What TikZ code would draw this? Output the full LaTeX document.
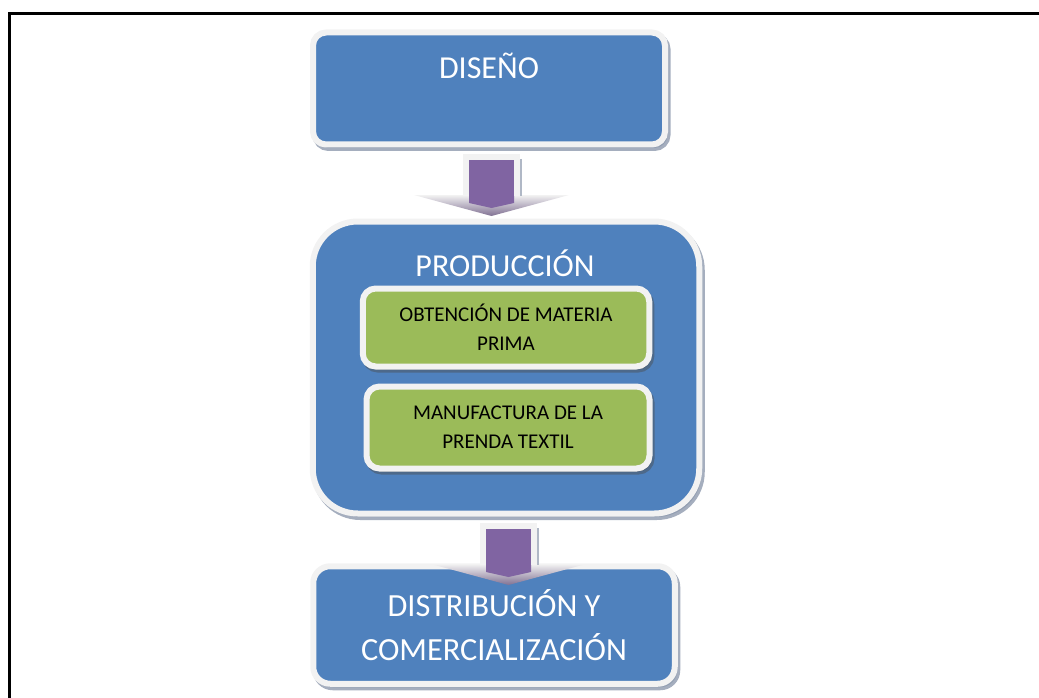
\documentclass[tikz,border=0pt]{standalone}
\usepackage{fontspec}
\setmainfont{Carlito}
\usetikzlibrary{shadows,calc}
\definecolor{boxblue}{HTML}{4F81BD}
\definecolor{boxgreen}{HTML}{9BBB59}
\definecolor{arrowpurple}{HTML}{8064A2}
\definecolor{ringwhite}{HTML}{F2F2F2}
\definecolor{shadowgray}{HTML}{8E9AAE}
\newcommand\flowarrow[1]{%
  \begin{scope}[shift={(#1)}]
    \shade[top color=ringwhite, bottom color=arrowpurple!55!gray]
      (-77.5,41) -- (77.5,41) -- (0,62) -- cycle;
    \fill[arrowpurple] (-22.5,6) -- (22.5,6) -- (22.5,49) -- (0,54) -- (-22.5,49) -- cycle;
    \draw[shadowgray!70, line width=2pt] (29,5) -- (29,42);
    \draw[ringwhite, line width=6pt] (-25.5,42) -- (-25.5,3) -- (25.5,3) -- (25.5,42);
  \end{scope}}
\begin{document}
\begin{tikzpicture}[x=1pt,y=-1pt,
  bluebox/.style={draw=ringwhite, line width=6pt, fill=boxblue, text=white,
    font=\fontsize{32.3}{44}\selectfont, align=center, inner sep=0pt,
    drop shadow={shadow xshift=2.5pt, shadow yshift=-3.5pt, fill=shadowgray,
      draw=shadowgray, line width=6pt, opacity=0.8}},
  greenbox/.style={draw=ringwhite, line width=6pt, fill=boxgreen, text=black,
    font=\fontsize{21}{29}\selectfont, align=center, inner sep=0pt,
    drop shadow={shadow xshift=2pt, shadow yshift=-3pt, fill=black!70,
      draw=black!70, line width=6pt, opacity=0.45}},
  titletext/.style={text=white, font=\fontsize{32}{44}\selectfont, anchor=base, inner sep=0pt}]
\useasboundingbox (0,0) rectangle (1039,698);
\draw[line width=2.8pt] (9.5,700) -- (9.5,13.2) -- (1040,13.2);
% boxes
\node[bluebox, rounded corners=13pt, minimum width=352pt, minimum height=112pt] (dis) at (489,88.5) {};
\node[titletext] (distxt) at (489,79) {DISEÑO};
\node[bluebox, rounded corners=45pt, minimum width=386.5pt, minimum height=292pt] (prod) at (506,367.5) {};
\node[titletext] (prodtxt) at (505,276) {PRODUCCIÓN};
\node[greenbox, rounded corners=13pt, minimum width=286.5pt, minimum height=78pt] (obt) at (506,327.5) {OBTENCIÓN DE MATERIA\\PRIMA};
\node[greenbox, rounded corners=13pt, minimum width=283pt, minimum height=82pt] (man) at (508,427.5) {MANUFACTURA DE LA\\PRENDA TEXTIL};
\node[bluebox, rounded corners=17pt, minimum width=361.5pt, minimum height=117.5pt] (dist) at (494,625) {DISTRIBUCIÓN Y\\COMERCIALIZACIÓN};
% arrows
\coordinate (a1) at ($(dis.south)+(2.5,6.5)$);
\coordinate (a2) at ($(prod.south)+(2.5,6.5)$);
\flowarrow{a1}
\flowarrow{a2}
\end{tikzpicture}
\end{document}
